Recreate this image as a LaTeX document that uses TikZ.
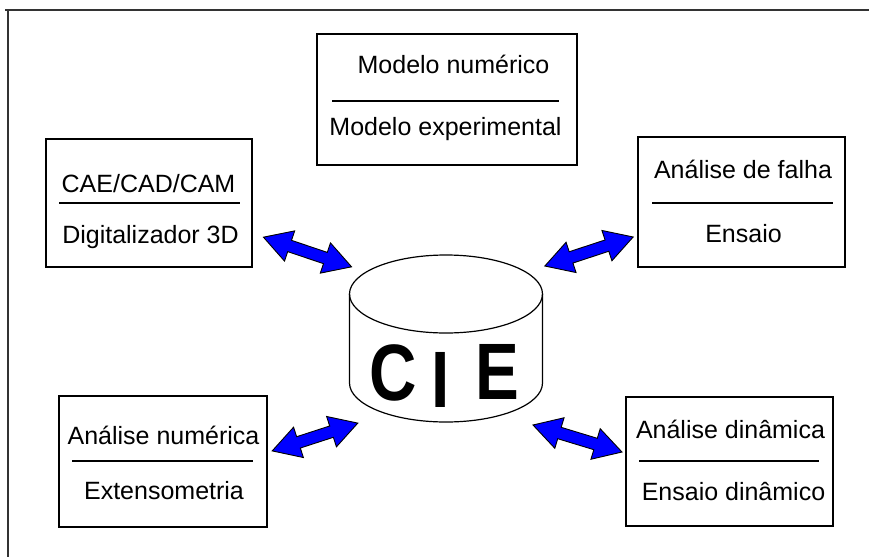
\documentclass[tikz,border=0pt]{standalone}
\usepackage{fontspec}
\setmainfont{Liberation Sans}
\usetikzlibrary{shapes.arrows}
\begin{document}
\begin{tikzpicture}[x=1pt,y=-1pt,
  box/.style={draw,line width=1.8pt,minimum width=#1,minimum height=130pt,inner sep=0pt},
  lbl/.style={anchor=base,inner sep=0pt,font=\fontsize{25}{28}\selectfont},
  divider/.style={line width=1.8pt},
  dblarrow/.style={double arrow,draw=black,line width=0.9pt,fill=blue,inner xsep=0pt,inner ysep=5.5pt,
     double arrow head extend=10pt,double arrow tip angle=60,minimum height=93pt},
  cie/.style={anchor=base,inner sep=0pt,font=\bfseries\fontsize{80}{84}\selectfont}]
\useasboundingbox (0,0) rectangle (869,557);
% frame
\draw[line width=1.5pt,black!80] (5,10) -- (869,10);
\draw[line width=1.5pt,black!80] (8,10) -- (8,557);

% top box
\node[box=260pt,minimum height=131pt] (top) at (447,99.5) {};
\node[lbl] (topa) at (453.5,73) {Modelo numérico};
\node[lbl] (topb) at (445.5,135) {Modelo experimental};
\draw[divider] (332,101) -- (559,101);

% CAE box
\node[box=206pt,minimum height=128pt] (cae) at (149,203) {};
\node[lbl] (caea) at (148.5,192) {CAE/CAD/CAM};
\node[lbl] (caeb) at (150.5,243) {Digitalizador 3D};
\draw[divider] (59,203) -- (240,203);

% falha box
\node[box=207pt,minimum height=130pt] (fal) at (741.5,202) {};
\node[lbl] (fala) at (743,178) {Análise de falha};
\node[lbl] (falb) at (743.5,242) {Ensaio};
\draw[divider] (652,203) -- (833,203);

% numerica box
\node[box=208pt,minimum height=131pt] (num) at (163,461.5) {};
\node[lbl] (numa) at (163.5,444) {Análise numérica};
\node[lbl] (numb) at (164,499) {Extensometria};
\draw[divider] (72,461) -- (253,461);

% dinamica box
\node[box=207pt,minimum height=129pt] (din) at (729.5,461.5) {};
\node[lbl] (dina) at (730.5,438) {Análise dinâmica};
\node[lbl] (dinb) at (733.5,500) {Ensaio dinâmico};
\draw[divider] (639,461) -- (819,461);

% cylinder
\coordinate (cyl) at (446,294);
\draw[line width=1.2pt,fill=white] (349.5,294) -- (349.5,383) arc[start angle=180,end angle=360,x radius=96.5pt,y radius=39pt] -- (542.5,294);
\draw[line width=1.2pt] (cyl) ellipse[x radius=96.5pt,y radius=39pt];
\node[cie] (c1) at (393,400) {\scalebox{0.82}[1]{C}};
\node[cie] (c2) at (441,407) {\scalebox{0.82}[1]{I}};
\node[cie] (c3) at (497.5,399) {\scalebox{0.82}[1]{E}};

% arrows
\node[dblarrow,rotate=-18.6] (a1) at (307.5,252) {};
\node[dblarrow,rotate=18.2] (a2) at (589,251.5) {};
\node[dblarrow,rotate=18,minimum height=90pt] (a3) at (315,437) {};
\node[dblarrow,rotate=-16.9] (a4) at (577.5,438.5) {};
\end{tikzpicture}
\end{document}
